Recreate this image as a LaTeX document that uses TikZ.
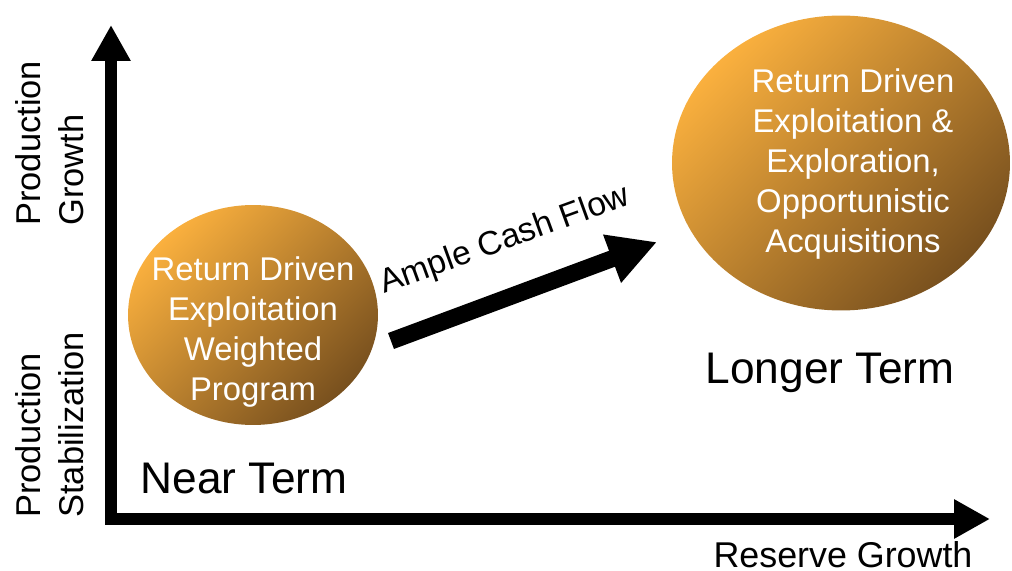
\documentclass[tikz,border=0pt]{standalone}
\usepackage{fontspec}
\setmainfont{Liberation Sans}
\usetikzlibrary{arrows.meta,shapes.geometric}
\definecolor{bubblelight}{RGB}{250,176,62}
\definecolor{bubbledark}{RGB}{120,80,30}
\tikzset{
  bubble/.style={ellipse, inner sep=0pt, top color=bubblelight, bottom color=bubbledark, shading angle=45},
  bubbletext/.style={text=white, align=center, inner sep=0pt, font=\fontsize{18.7}{22.7}\selectfont},
  axisline/.style={line width=0.24cm, line join=miter, {Triangle[length=0.72cm,width=0.74cm]}-{Triangle[length=0.72cm,width=0.74cm]}},
  flow/.style={line width=0.34cm, -{Triangle[length=0.96cm,width=0.96cm]}},
  termtext/.style={inner sep=0pt, anchor=base, font=\fontsize{25.2}{30}\selectfont},
  sidetext/.style={inner sep=0pt, rotate=90, anchor=north west, align=left, font=\fontsize{19.6}{24.4}\selectfont}
}
\begin{document}
\begin{tikzpicture}[x=0.02cm, y=-0.02cm]
  \useasboundingbox (0,0) rectangle (1012,571);
  \coordinate (origin) at (111,519);
  \coordinate (ytip) at (111,25);
  \coordinate (xtip) at (990,519);
  \draw[axisline] (ytip) -- (origin) -- (xtip);

  \node[bubble, minimum width=5cm, minimum height=4.4cm] (nearbubble) at (253,315) {};
  \node[bubbletext] (neartext) at (253,332) {Return Driven\\Exploitation\\Weighted\\Program};
  \node[bubble, minimum width=6.76cm, minimum height=5.9cm] (longbubble) at (841,163) {};
  \node[bubbletext] (longtext) at (853,164) {Return Driven\\Exploitation \&\\Exploration,\\Opportunistic\\Acquisitions};

  \coordinate (flowtail) at (391,341);
  \coordinate (flowtip) at (657,242);
  \draw[flow] (flowtail) -- (flowtip);
  \node[inner sep=0pt, anchor=base, rotate=20, font=\fontsize{19.1}{23}\selectfont] (flowlabel) at (508,249) {Ample Cash Flow};

  \node[termtext] (nearterm) at (244,493) {Near Term};
  \node[termtext] (longterm) at (830,383) {Longer Term};
  \node[inner sep=0pt, anchor=base, font=\fontsize{20.4}{24}\selectfont] (xlabel) at (843,567) {Reserve Growth};
  \node[sidetext] (ygrowth) at (15,226) {Production\\Growth};
  \node[sidetext] (ystable) at (15,518) {Production\\Stabilization};
\end{tikzpicture}
\end{document}
